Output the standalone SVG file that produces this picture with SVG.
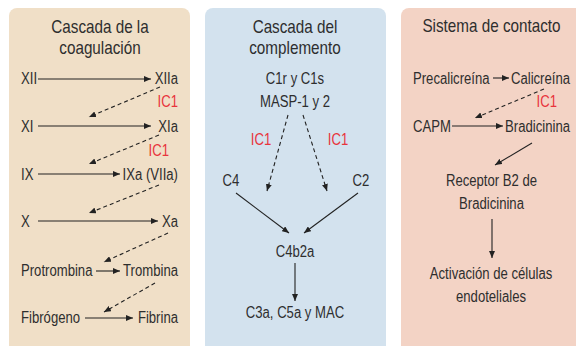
<svg xmlns="http://www.w3.org/2000/svg" width="576" height="346" viewBox="0 0 576 346">
<defs>
<marker id="ah" markerUnits="userSpaceOnUse" markerWidth="8" markerHeight="6" refX="7" refY="3" orient="auto">
<path d="M0,0 L7,3 L0,6 Z" fill="#222"/>
</marker>
<style>
text{font-family:"Liberation Sans",Arial,sans-serif;fill:#2e2e2e;font-size:16px}
.t{font-size:18.6px}
.m{text-anchor:middle}
.e{text-anchor:end}
.r{fill:#e8343c}
.s{stroke:#222;stroke-width:1.1;fill:none;marker-end:url(#ah)}
.d{stroke:#222;stroke-width:1.1;fill:none;stroke-dasharray:4 3;marker-end:url(#ah)}
</style>
</defs>
<rect x="9" y="8" width="181" height="346" rx="8" fill="#f0dfc7"/>
<rect x="205" y="8" width="181" height="346" rx="8" fill="#d3e2ee"/>
<rect x="401" y="8" width="190" height="346" rx="8" fill="#f3d3c5"/>

<g id="coag">
<text class="t m" transform="translate(100,33) scale(0.82,1)">Cascada de la</text>
<text class="t m" transform="translate(100,54) scale(0.82,1)">coagulación</text>
<g id="n-xii"><text transform="translate(21,84) scale(0.82,1)">XII</text></g>
<g id="n-xiia"><text class="e" transform="translate(178,84) scale(0.82,1)">XIIa</text></g>
<g id="n-xi"><text transform="translate(21,132) scale(0.82,1)">XI</text></g>
<g id="n-xia"><text class="e" transform="translate(178,132) scale(0.82,1)">XIa</text></g>
<g id="n-ix"><text transform="translate(21,180) scale(0.82,1)">IX</text></g>
<g id="n-ixa"><text class="e" transform="translate(178,180) scale(0.82,1)">IXa (VIIa)</text></g>
<g id="n-x"><text transform="translate(21,227) scale(0.82,1)">X</text></g>
<g id="n-xa"><text class="e" transform="translate(178,227) scale(0.82,1)">Xa</text></g>
<g id="n-protrombina"><text transform="translate(21,276) scale(0.82,1)">Protrombina</text></g>
<g id="n-trombina"><text class="e" transform="translate(178,276) scale(0.82,1)">Trombina</text></g>
<g id="n-fibrogeno"><text transform="translate(21,323) scale(0.82,1)">Fibrógeno</text></g>
<g id="n-fibrina"><text class="e" transform="translate(178,323) scale(0.82,1)">Fibrina</text></g>
<text class="r e" transform="translate(178,107) scale(0.82,1)">IC1</text>
<text class="r e" transform="translate(169,156) scale(0.82,1)">IC1</text>
</g>

<g id="comp">
<text class="t m" transform="translate(295,33) scale(0.82,1)">Cascada del</text>
<text class="t m" transform="translate(295,54) scale(0.82,1)">complemento</text>
<g id="n-c1"><text class="m" transform="translate(295,84) scale(0.82,1)">C1r y C1s</text><text class="m" transform="translate(295,107) scale(0.82,1)">MASP-1 y 2</text></g>
<g id="n-c4"><text class="m" transform="translate(231,186) scale(0.82,1)">C4</text></g>
<g id="n-c2"><text class="m" transform="translate(361,186) scale(0.82,1)">C2</text></g>
<g id="n-c4b2a"><text class="m" transform="translate(295,257) scale(0.82,1)">C4b2a</text></g>
<g id="n-c3a"><text class="m" transform="translate(295,318) scale(0.82,1)">C3a, C5a y MAC</text></g>
<text class="r m" transform="translate(261,145) scale(0.82,1)">IC1</text>
<text class="r m" transform="translate(338,145) scale(0.82,1)">IC1</text>
</g>

<g id="contact">
<text class="t m" transform="translate(491.5,32) scale(0.82,1)">Sistema de contacto</text>
<g id="n-precalicreina"><text transform="translate(413,84) scale(0.82,1)">Precalicreína</text></g>
<g id="n-calicreina"><text class="e" transform="translate(570,84) scale(0.82,1)">Calicreína</text></g>
<g id="n-capm"><text transform="translate(413,132) scale(0.82,1)">CAPM</text></g>
<g id="n-bradicinina"><text class="e" transform="translate(570,132) scale(0.82,1)">Bradicinina</text></g>
<g id="n-receptor"><text class="m" transform="translate(491.5,186) scale(0.82,1)">Receptor B2 de</text><text class="m" transform="translate(491.5,209) scale(0.82,1)">Bradicinina</text></g>
<g id="n-activacion"><text class="m" transform="translate(491,279) scale(0.82,1)">Activación de células</text><text class="m" transform="translate(491,302) scale(0.82,1)">endoteliales</text></g>
<text class="r e" transform="translate(557,107) scale(0.82,1)">IC1</text>
</g>

<g id="connectors">
<line class="s" x1="38" y1="79" x2="151" y2="79"/>
<line class="s" x1="38" y1="126" x2="151" y2="126"/>
<line class="s" x1="38" y1="174" x2="120" y2="174"/>
<line class="s" x1="38" y1="221" x2="158" y2="221"/>
<line class="s" x1="96" y1="271" x2="120" y2="271"/>
<line class="s" x1="85" y1="318" x2="133" y2="318"/>
<line class="d" x1="160" y1="87" x2="89" y2="117"/>
<line class="d" x1="159" y1="135" x2="89" y2="164"/>
<line class="d" x1="159" y1="185" x2="89" y2="213"/>
<line class="d" x1="168" y1="233" x2="104" y2="262"/>
<line class="d" x1="155" y1="283" x2="104" y2="312"/>

<line class="d" x1="288" y1="115" x2="267" y2="191"/>
<line class="d" x1="303" y1="115" x2="327" y2="191"/>
<line class="s" x1="236" y1="193" x2="289" y2="233"/>
<line class="s" x1="358" y1="193" x2="304" y2="233"/>
<line class="s" x1="295" y1="263" x2="295" y2="301"/>

<line class="s" x1="493" y1="78" x2="509" y2="78"/>
<line class="d" x1="544" y1="89" x2="475" y2="118"/>
<line class="s" x1="452" y1="126" x2="503" y2="126"/>
<line class="s" x1="532" y1="143" x2="495" y2="165"/>
<line class="s" x1="492" y1="219" x2="492" y2="258"/>
</g>
</svg>
